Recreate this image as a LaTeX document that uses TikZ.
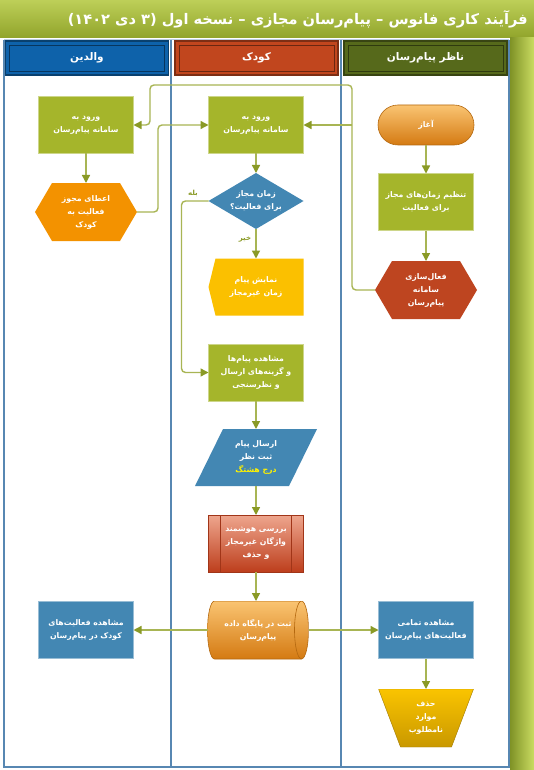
\documentclass[tikz,border=0pt]{standalone}
\usepackage{fontspec}
\newfontfamily\fa[Script=Arabic]{DejaVu Sans}
\newfontfamily\dv{DejaVu Sans}
\TeXXeTstate=1
\usetikzlibrary{arrows.meta}
\newcommand\rl[1]{\beginR#1\endR}
\definecolor{oliveF}{HTML}{A5B52B}
\definecolor{blueF}{HTML}{4387B3}
\definecolor{orangeF}{HTML}{F39200}
\definecolor{redF}{HTML}{BE4520}
\definecolor{yellowF}{HTML}{FBC000}
\definecolor{lineC}{HTML}{A8B554}
\definecolor{arrC}{HTML}{8A9A26}
\definecolor{laneC}{HTML}{5787B2}
\definecolor{titleT}{HTML}{BDCF58}
\definecolor{titleB}{HTML}{91A42B}
\definecolor{barL}{HTML}{7F9226}
\definecolor{barR}{HTML}{CADC62}
\definecolor{hdrBlue}{HTML}{0E62AA}
\definecolor{hdrRed}{HTML}{C1461E}
\definecolor{hdrOlive}{HTML}{56691B}
\definecolor{termT}{HTML}{FAC472}
\definecolor{termB}{HTML}{D47A12}
\definecolor{ppT}{HTML}{EEA68E}
\definecolor{ppB}{HTML}{BD3E1C}
\definecolor{trT}{HTML}{FAC400}
\definecolor{trB}{HTML}{C99800}
\tikzset{
  txt/.style={inner sep=0pt, outer sep=0pt, align=center, text=white,
    font=\fa\bfseries\fontsize{7.8}{13}\selectfont},
  proc/.style={txt, rectangle, minimum width=95pt, minimum height=57pt,
    fill=#1, draw=white!45!#1, line width=0.6pt},
  hexa/.style={txt, rectangle, minimum width=102pt, minimum height=58pt,
    path picture={\fill[#1] ([xshift=17pt]path picture bounding box.north west)
      -- ([xshift=-17pt]path picture bounding box.north east)
      -- (path picture bounding box.east)
      -- ([xshift=-17pt]path picture bounding box.south east)
      -- ([xshift=17pt]path picture bounding box.south west)
      -- (path picture bounding box.west) -- cycle;}},
  diam/.style={txt, rectangle, minimum width=95pt, minimum height=56pt,
    path picture={\fill[#1] (path picture bounding box.north)
      -- (path picture bounding box.east) -- (path picture bounding box.south)
      -- (path picture bounding box.west) -- cycle;}},
  disp/.style={txt, rectangle, minimum width=95pt, minimum height=57pt,
    path picture={\fill[#1] ([xshift=7pt]path picture bounding box.north west)
      -- (path picture bounding box.north east) -- (path picture bounding box.south east)
      -- ([xshift=7pt]path picture bounding box.south west)
      -- (path picture bounding box.west) -- cycle;}},
  para/.style={txt, rectangle, minimum width=122pt, minimum height=57pt,
    path picture={\fill[#1] ([xshift=28pt]path picture bounding box.north west)
      -- (path picture bounding box.north east)
      -- ([xshift=-28pt]path picture bounding box.south east)
      -- (path picture bounding box.south west) -- cycle;}},
  trap/.style={txt, rectangle, minimum width=95pt, minimum height=58pt,
    path picture={\path[top color=trT, bottom color=trB, draw=trB!80!black]
      (path picture bounding box.north west) -- (path picture bounding box.north east)
      -- ([xshift=-22pt]path picture bounding box.south east)
      -- ([xshift=22pt]path picture bounding box.south west) -- cycle;}},
  predef/.style={txt, rectangle, minimum width=95pt, minimum height=57pt,
    top color=ppT, bottom color=ppB, draw=ppB!85!black, line width=0.6pt,
    path picture={\draw[ppB!85!black, line width=0.6pt]
      ([xshift=12pt]path picture bounding box.north west) -- ([xshift=12pt]path picture bounding box.south west)
      ([xshift=-12pt]path picture bounding box.north east) -- ([xshift=-12pt]path picture bounding box.south east);}},
  cyl/.style={txt, rectangle, minimum width=101pt, minimum height=58pt,
    path picture={\path[top color=termT, bottom color=termB, draw=termB!85!black, line width=0.6pt]
      ([xshift=7pt]path picture bounding box.north west)
      -- ([xshift=-7pt]path picture bounding box.north east)
      arc[start angle=90, end angle=-90, x radius=7pt, y radius=29pt]
      -- ([xshift=7pt]path picture bounding box.south west)
      arc[start angle=270, end angle=90, x radius=7pt, y radius=29pt] -- cycle;
      \draw[termB!85!black, line width=0.6pt] ([xshift=-7pt]path picture bounding box.north east)
      arc[start angle=90, end angle=270, x radius=7pt, y radius=29pt];}},
  term/.style={txt, rectangle, rounded corners=20pt, minimum width=96pt, minimum height=40pt,
    top color=termT, bottom color=termB, draw=termB!85!black, line width=0.6pt},
  hdr/.style={txt, font=\fa\bfseries\fontsize{10.5}{12}\selectfont, rectangle,
    minimum width=163pt, minimum height=34pt, fill=#1, draw=#1!65!black, line width=1.4pt,
    path picture={\draw[#1!55!black, line width=0.8pt]
      ([shift={(4pt,-4pt)}]path picture bounding box.north west) rectangle
      ([shift={(-4pt,4pt)}]path picture bounding box.south east);}},
  lbl/.style={inner sep=0pt, text=arrC, font=\fa\bfseries\fontsize{7}{8}\selectfont},
  flow/.style={draw=lineC, line width=1.4pt, rounded corners=4pt,
    -{Triangle[length=8pt,width=8pt,color=arrC]}},
  lane/.style={draw=laneC, line width=2.2pt},
}
\begin{document}
\begin{tikzpicture}[x=1pt,y=1pt]
\useasboundingbox (0,0) rectangle (534,-770);
\fill[white] (0,0) rectangle (534,-770);
% title bar and side bar
\path[top color=titleT, bottom color=titleB] (0,0) rectangle (534,-38);
\path[left color=barL, right color=barR] (510,-38) rectangle (534,-770);
\node[anchor=east, inner sep=0pt, text=white, font=\fa\bfseries\fontsize{14.6}{16}\selectfont] (title) at (528,-19)
  {\beginR فرآیند کاری فانوس – پیام^^^^200cرسان مجازی – نسخه اول \beginL{\dv(}۱۴۰۲ دی ۳{\dv)}\endL\endR};
% lanes
\draw[laneC!40!white, line width=1pt] (4,-40) -- (509,-40);
\draw[lane] (4,-40) -- (4,-767) -- (509,-767) -- (509,-40);
\draw[lane] (171,-40) -- (171,-767);
\draw[lane] (341,-40) -- (341,-767);
% headers
\node[hdr=hdrBlue] (hP) at (87,-58) {\rl{والدین}};
\node[hdr=hdrRed] (hC) at (256.5,-58) {\rl{کودک}};
\node[hdr=hdrOlive] (hA) at (425.5,-58) {\rl{ناظر پیام^^^^200cرسان}};
% parent lane
\node[proc=oliveF] (L1) at (86,-125) {\rl{ورود به}\\\rl{سامانه پیام^^^^200cرسان}};
\node[hexa=orangeF] (LH) at (86,-212) {\rl{اعطای مجوز}\\\rl{فعالیت به}\\\rl{کودک}};
\node[proc=blueF] (LB) at (86,-630) {\rl{مشاهده فعالیت^^^^200cهای}\\\rl{کودک در پیام^^^^200cرسان}};
% child lane
\node[proc=oliveF] (M1) at (256,-125) {\rl{ورود به}\\\rl{سامانه پیام^^^^200cرسان}};
\node[diam=blueF] (D) at (256,-201) {\rl{زمان مجاز}\\\rl{برای فعالیت؟}};
\node[disp=yellowF] (DS) at (256,-287) {\rl{نمایش پیام}\\\rl{زمان غیرمجاز}};
\node[proc=oliveF] (M2) at (256,-372.5) {\rl{مشاهده پیام^^^^200cها}\\\rl{و گزینه^^^^200cهای ارسال}\\\rl{و نظرسنجی}};
\node[para=blueF] (PA) at (256,-457.5) {\rl{ارسال پیام}\\\rl{ثبت نظر}\\{\color{yellow}\rl{درج هشتگ}}};
\node[predef] (PP) at (256,-543.5) {\rl{بررسی هوشمند}\\\rl{واژگان غیرمجاز}\\\rl{و حذف}};
\node[cyl] (CY) at (258,-630) {\rl{ثبت در پایگاه داده}\\\rl{پیام^^^^200cرسان}};
% admin lane
\node[term] (T) at (426,-125) {\rl{آغاز}};
\node[proc=oliveF] (R1) at (426,-202) {\rl{تنظیم زمان^^^^200cهای مجاز}\\\rl{برای فعالیت}};
\node[hexa=redF] (RH) at (426,-290) {\rl{فعال^^^^200cسازی}\\\rl{سامانه}\\\rl{پیام^^^^200cرسان}};
\node[proc=blueF] (RB) at (426,-630) {\rl{مشاهده تمامی}\\\rl{فعالیت^^^^200cهای پیام^^^^200cرسان}};
\node[trap] (TZ) at (426,-718) {\rl{حذف}\\\rl{موارد}\\\rl{نامطلوب}};
% labels
\node[lbl] (yes) at (193,-193) {\rl{بله}};
\node[lbl] (no) at (245,-239) {\rl{خیر}};
% routing points
\coordinate (tkTop) at (352,-85);
\coordinate (lTop) at (150,-85);
% connectors
\draw[flow] (L1) -- (LH);
\draw[flow] (LH.east) -- ++(21pt,0) |- (M1.west);
\draw[flow] (RH.west) -| (tkTop) -- (lTop) |- (L1.east);
\draw[flow] (M1.east -| tkTop) -- (M1.east);
\draw[flow] (M1) -- (D);
\draw[flow] (D) -- (DS);
\draw[flow] (D.west) -- ++(-27pt,0) |- (M2.west);
\draw[flow] (M2) -- (PA);
\draw[flow] (PA) -- (PP);
\draw[flow] (PP) -- (CY.north -| PP.south);
\draw[flow] (CY.west) -- (LB.east);
\draw[flow] (CY.east) -- (RB.west);
\draw[flow] (T) -- (R1);
\draw[flow] (R1) -- (RH);
\draw[flow] (RB) -- (TZ);
\end{tikzpicture}
\end{document}
